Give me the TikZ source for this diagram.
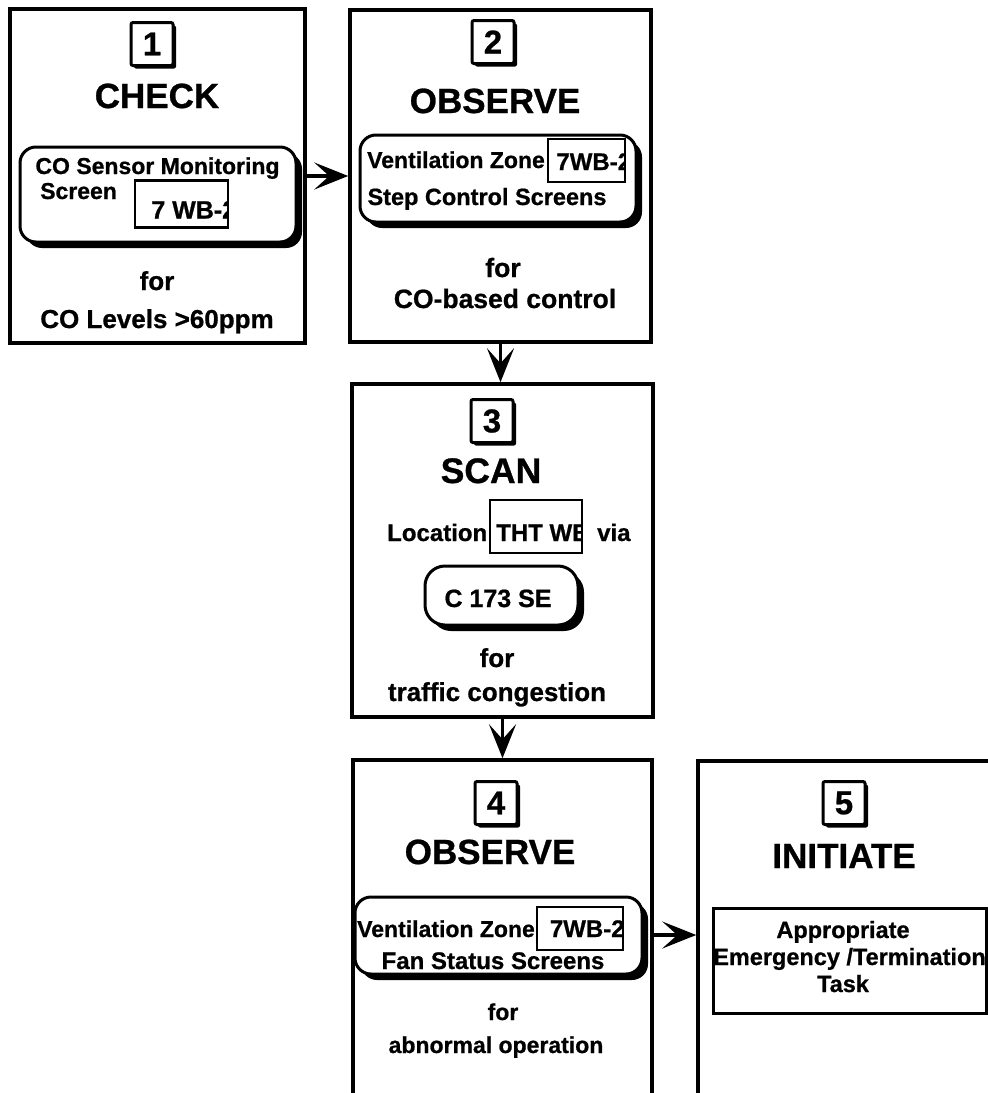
\documentclass[tikz,border=0pt]{standalone}
\usepackage{fontspec}
\setmainfont{Liberation Sans}[BoldFeatures={FakeBold=0.8}]
\usetikzlibrary{arrows.meta,shadows}
\newcommand{\fsz}[1]{\fontsize{#1}{#1}\selectfont\bfseries}
\begin{document}
\begin{tikzpicture}[x=1pt,y=-1pt,
  frame/.style={draw, line width=3.5pt, inner sep=0pt},
  numbox/.style={draw, fill=white, line width=3pt, rounded corners=2pt,
    minimum width=42pt, minimum height=43pt, inner sep=0pt, font=\fsz{33},
    drop shadow={shadow xshift=3pt, shadow yshift=-3pt, fill=black, opacity=1}},
  lbl/.style={anchor=base, inner sep=0pt, font=\fsz{#1}},
  screen/.style={draw, fill=white, line width=3pt, rounded corners=16pt, inner sep=0pt,
    drop shadow={shadow xshift=6pt, shadow yshift=-6pt, fill=black, opacity=1}},
  tag/.style={draw, fill=white, line width=2.5pt, inner sep=0pt},
  flow/.style={line width=3.5pt, -{Stealth[length=34pt, width=27pt, inset=15pt]}}
]
\clip (0,0) rectangle (988,1093);
\fill[white] (0,0) rectangle (988,1093);

% ---- step 1: CHECK ----
\node[frame, minimum width=295pt, minimum height=334pt] (b1) at (157.5,176) {};
\node[numbox] (n1) at (152,44) {1};
\node[lbl=35] (h1) at (157,108) {CHECK};
\node[screen, minimum width=276pt, minimum height=95pt] (s1) at (158,194.5) {};
\node[lbl=23] (s1a) at (157.5,174) {CO Sensor Monitoring};
\node[lbl=23, anchor=base west] (s1b) at (40,199) {Screen};
\node[tag, minimum width=93pt, minimum height=47pt,
  path picture={\node[lbl=25, anchor=base west] (t1)
    at ([xshift=-35.5pt, yshift=-14.5pt]path picture bounding box.center) {7 WB-2};}]
  (g1) at (181.5,204) {};
\node[lbl=26] (f1) at (157,290) {for};
\node[lbl=26] (c1) at (157,328) {CO Levels >60ppm};

% ---- step 2: OBSERVE ----
\node[frame, minimum width=301pt, minimum height=332pt] (b2) at (500.5,176) {};
\node[numbox] (n2) at (493,42) {2};
\node[lbl=35] (h2) at (495,113) {OBSERVE};
\node[screen, minimum width=276pt, minimum height=87pt] (s2) at (498,178.5) {};
\node[lbl=23, anchor=base west] (s2a) at (367,168) {Ventilation Zone};
\node[tag, minimum width=77pt, minimum height=43pt,
  path picture={\node[lbl=24, anchor=base west] (t2)
    at ([xshift=-32.5pt, yshift=-9.5pt]path picture bounding box.center) {7WB-2};}]
  (g2) at (586.5,160.5) {};
\node[lbl=23.5] (s2b) at (487,205) {Step Control Screens};
\node[lbl=26.5] (f2) at (503,277) {for};
\node[lbl=26.5] (c2) at (505,308) {CO-based control};

% ---- step 3: SCAN ----
\node[frame, minimum width=301pt, minimum height=333pt] (b3) at (502.5,550.5) {};
\node[numbox] (n3) at (492,421) {3};
\node[lbl=35.5] (h3) at (491,483) {SCAN};
\node[lbl=24, anchor=base west] (l3) at (387,541) {Location};
\node[tag, minimum width=92pt, minimum height=53pt,
  path picture={\node[lbl=24, anchor=base west] (t3)
    at ([xshift=-41pt, yshift=-14.5pt]path picture bounding box.center) {THT WB};}]
  (g3) at (536,526.5) {};
\node[lbl=24, anchor=base west] (v3) at (597,541) {via};
\node[screen, rounded corners=20pt, minimum width=153pt, minimum height=59pt] (s3) at (501.5,595.5) {};
\node[lbl=25] (s3a) at (498,607) {C 173 SE};
\node[lbl=26] (f3) at (497,667) {for};
\node[lbl=26] (c3) at (497,701) {traffic congestion};

% ---- step 4: OBSERVE ----
\node[frame, minimum width=299pt, minimum height=350pt] (b4) at (502.5,935) {};
\node[numbox] (n4) at (496,803) {4};
\node[lbl=35] (h4) at (490,864) {OBSERVE};
\node[screen, minimum width=287pt, minimum height=77pt] (s4) at (498.5,935.5) {};
\node[lbl=23, anchor=base west] (s4a) at (357,937) {Ventilation Zone};
\node[tag, minimum width=86pt, minimum height=43pt,
  path picture={\node[lbl=24, anchor=base west] (t4)
    at ([xshift=-37pt, yshift=-8.5pt]path picture bounding box.center) {7WB-2};}]
  (g4) at (580,928.5) {};
\node[lbl=24] (s4b) at (493,969) {Fan Status Screens};
\node[lbl=23] (f4) at (503,1020) {for};
\node[lbl=23] (c4) at (496,1053) {abnormal operation};

% ---- step 5: INITIATE ----
\node[frame, minimum width=342pt, minimum height=348pt] (b5) at (869,935) {};
\node[numbox] (n5) at (844,803) {5};
\node[lbl=35] (h5) at (844,868) {INITIATE};
\node[tag, line width=3pt, minimum width=273pt, minimum height=105pt,
  path picture={\node[lbl=23.5] (e5)
    at ([yshift=-4.5pt]path picture bounding box.center) {Emergency /Termination};}]
  (k5) at (849.5,960.5) {};
\node[lbl=23.5] (a5) at (843,938) {Appropriate};
\node[lbl=23.5] (t5) at (843,992) {Task};

% ---- flow between steps ----
\draw[flow] (b1.east) -- (b2.west);
\draw[flow] (b2.south) -- (b2.south |- b3.north);
\draw[flow] (b3.south) -- (b4.north);
\draw[flow] (b4.east) -- (b5.west);
\end{tikzpicture}
\end{document}
